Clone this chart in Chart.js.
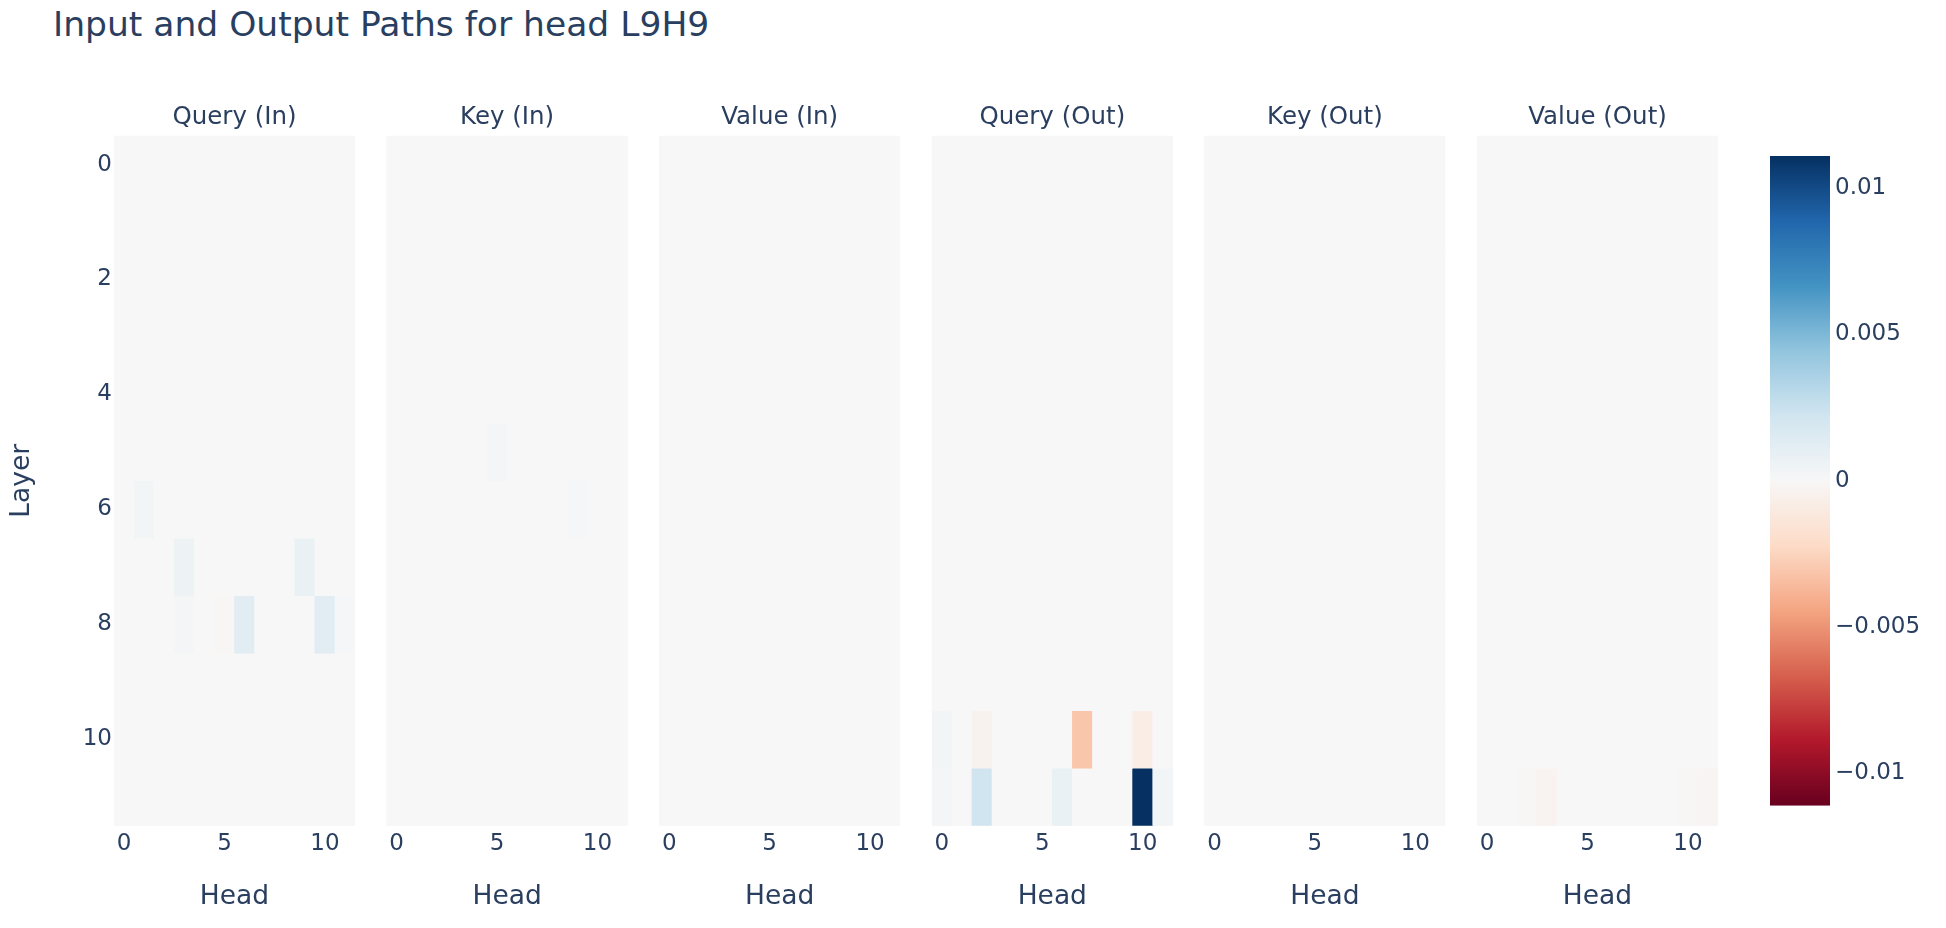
<!DOCTYPE html>
<html>
<head>
<meta charset="utf-8">
<title>Input and Output Paths for head L9H9</title>
<script src="https://cdn.jsdelivr.net/npm/chart.js"></script>
<style>
  body { margin: 0; background: #fff; }
  #wrap { position: relative; width: 1946px; height: 928px; overflow: hidden; }
  #wrap canvas { position: absolute; top: 0; }
  #title {
    position: absolute; left: 53px; top: 7px; white-space: nowrap;
    font: 34.5px/1 "DejaVu Sans", Verdana, sans-serif; color: #2a3f5f;
  }
</style>
</head>
<body>
<div id="wrap">
  <div id="title">Input and Output Paths for head L9H9</div>
</div>
<script>
var heads = [0, 1, 2, 3, 4, 5, 6, 7, 8, 9, 10, 11];
var layers = [0, 1, 2, 3, 4, 5, 6, 7, 8, 9, 10, 11];
var panelTitles = ['Query (In)', 'Key (In)', 'Value (In)', 'Query (Out)', 'Key (Out)', 'Value (Out)'];

// cells that differ from ~0, as [layer, head, value]
var queryIn = [[6, 1, 0.0003], [7, 3, 0.0006], [7, 9, 0.0008], [8, 3, 0.0002],
               [8, 5, -0.0001], [8, 6, 0.0013], [8, 10, 0.0013], [8, 11, 0.0001]];
var keyIn = [[5, 5, 0.0002], [6, 9, 0.0001]];
var valueIn = [];
var queryOut = [[10, 0, 0.0003], [10, 2, -0.0004], [10, 7, -0.0031], [10, 10, -0.0008],
                [11, 0, 0.0002], [11, 2, 0.0022], [11, 6, 0.0008], [11, 10, 0.0111], [11, 11, 0.0003]];
var keyOut = [];
var valueOut = [[11, 2, -0.0001], [11, 3, -0.0003], [11, 10, -0.0001], [11, 11, -0.0002]];
var panels = [queryIn, keyIn, valueIn, queryOut, keyOut, valueOut];

var zMin = -0.0111;
var zMax = 0.0111;
var yTicks = [0, 2, 4, 6, 8, 10];
var xTicks = [0, 5, 10];
var colorTicks = [-0.01, -0.005, 0, 0.005, 0.01];

// RdBu, low (red) to high (blue)
var rdbu = [[103, 0, 31], [178, 24, 43], [214, 96, 77], [244, 165, 130], [253, 219, 199],
            [247, 247, 247], [209, 229, 240], [146, 197, 222], [67, 147, 195], [33, 102, 172], [5, 48, 97]];

var ink = '#2a3f5f';
var fontFamily = '"DejaVu Sans", Verdana, sans-serif';
var H = 928;
var panelLeft = [114, 386.6, 659.2, 931.8, 1204.4, 1477];
var plotW = 241;
var plotTop = 135.7;
var plotBottom = 825.7;

function rgb(c) {
  return 'rgb(' + c[0] + ',' + c[1] + ',' + c[2] + ')';
}

function zColor(v) {
  var t = (v - zMin) / (zMax - zMin);
  t = Math.max(0, Math.min(1, t)) * (rdbu.length - 1);
  var i = Math.min(Math.floor(t), rdbu.length - 2);
  var f = t - i;
  var a = rdbu[i], b = rdbu[i + 1];
  return rgb([0, 1, 2].map(function (k) { return Math.round(a[k] + (b[k] - a[k]) * f); }));
}

function addCanvas(left, width) {
  var c = document.createElement('canvas');
  c.width = width;
  c.height = H;
  c.style.left = left + 'px';
  c.style.width = width + 'px';
  c.style.height = H + 'px';
  document.getElementById('wrap').appendChild(c);
  return c;
}

// paint the panel with the zero colour so no seams show between cells
var fillArea = {
  id: 'fillArea',
  beforeDatasetsDraw: function (chart) {
    var a = chart.chartArea;
    chart.ctx.save();
    chart.ctx.fillStyle = zColor(0);
    chart.ctx.fillRect(a.left, a.top, a.right - a.left, a.bottom - a.top);
    chart.ctx.restore();
  }
};

panels.forEach(function (cells, p) {
  var grid = layers.map(function () { return heads.map(function () { return 0; }); });
  cells.forEach(function (c) { grid[c[0]][c[1]] = c[2]; });

  var first = p === 0;
  var canvasLeft = first ? 0 : Math.floor(panelLeft[p]) - 10;
  var width = Math.ceil(panelLeft[p] + plotW + 10 - canvasLeft);
  var padLeft = first ? 0 : panelLeft[p] - canvasLeft;
  var padRight = canvasLeft + width - (panelLeft[p] + plotW);

  new Chart(addCanvas(canvasLeft, width), {
    type: 'bar',
    data: {
      labels: heads.map(String),
      datasets: layers.map(function (l) {
        return {
          label: 'Layer ' + l,
          data: heads.map(function () { return [l - 0.5, l + 0.5]; }),
          backgroundColor: heads.map(function (h) { return zColor(grid[l][h]); }),
          borderWidth: 0,
          grouped: false,
          barPercentage: 1,
          categoryPercentage: 1
        };
      })
    },
    options: {
      responsive: false,
      animation: false,
      layout: { padding: { left: padLeft, right: padRight, top: 0, bottom: 0 } },
      plugins: {
        legend: { display: false },
        tooltip: { enabled: false },
        title: {
          display: true,
          fullSize: false,
          text: panelTitles[p],
          color: ink,
          font: { family: fontFamily, size: 24.5, weight: 'normal' },
          padding: { top: 103.0, bottom: 3.4 }
        }
      },
      scales: {
        x: {
          grid: { display: false, drawTicks: false },
          border: { display: false },
          ticks: {
            color: ink,
            font: { family: fontFamily, size: 23 },
            padding: 4.8,
            autoSkip: false,
            maxRotation: 0,
            callback: function (v, i) { return xTicks.indexOf(heads[i]) >= 0 ? String(heads[i]) : ''; }
          },
          title: {
            display: true,
            text: 'Head',
            color: ink,
            font: { family: fontFamily, size: 26.5 },
            padding: { top: 0, bottom: 15.4 }
          },
          afterFit: function (s) { s.height = H - plotBottom; }
        },
        y: {
          display: first,
          min: -0.5,
          max: 11.5,
          reverse: true,
          grid: { display: false, drawTicks: false },
          border: { display: false },
          afterBuildTicks: function (s) { s.ticks = yTicks.map(function (v) { return { value: v }; }); },
          ticks: { color: ink, font: { family: fontFamily, size: 23 }, padding: 2 },
          title: {
            display: true,
            text: 'Layer',
            color: ink,
            font: { family: fontFamily, size: 26.5 },
            padding: { top: 6.6, bottom: 0 }
          },
          afterFit: function (s) { if (first) s.width = panelLeft[0]; }
        }
      }
    },
    plugins: [fillArea]
  });
});

// colour bar
var cbLeft = 1770, cbRight = 1830, cbTop = 156, cbBottom = 805.7;
new Chart(addCanvas(cbLeft - 10, 1946 - cbLeft + 10), {
  type: 'bar',
  data: {
    labels: [''],
    datasets: [{
      data: [[zMin, zMax]],
      backgroundColor: function (ctx) {
        var a = ctx.chart.chartArea;
        if (!a) return null;
        var g = ctx.chart.ctx.createLinearGradient(0, a.bottom, 0, a.top);
        rdbu.forEach(function (c, i) { g.addColorStop(i / (rdbu.length - 1), rgb(c)); });
        return g;
      },
      borderWidth: 0,
      inflateAmount: 0,
      barPercentage: 1,
      categoryPercentage: 1
    }]
  },
  options: {
    responsive: false,
    animation: false,
    layout: { padding: { left: 10, right: 0, top: cbTop, bottom: H - cbBottom } },
    plugins: { legend: { display: false }, tooltip: { enabled: false } },
    scales: {
      x: { display: false },
      y: {
        position: 'right',
        min: zMin,
        max: zMax,
        grid: { display: false, drawTicks: false },
        border: { display: false },
        afterBuildTicks: function (s) { s.ticks = colorTicks.map(function (v) { return { value: v }; }); },
        ticks: {
          color: ink,
          font: { family: fontFamily, size: 23 },
          padding: 5,
          callback: function (v) { return v < 0 ? '\u2212' + Math.abs(v) : String(v); }
        },
        afterFit: function (s) { s.width = 1946 - cbRight; }
      }
    }
  }
});
</script>
</body>
</html>
